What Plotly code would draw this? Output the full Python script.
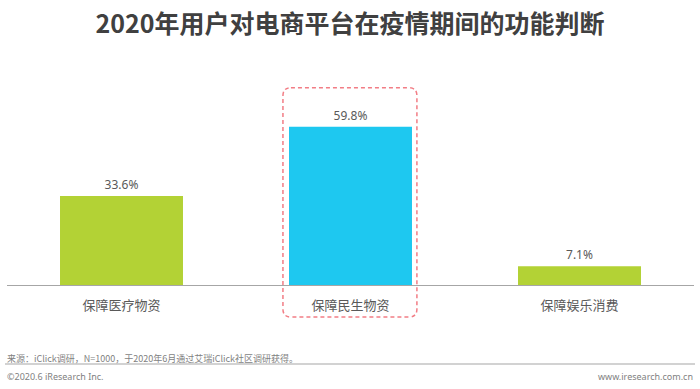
import plotly.graph_objects as go

categories = ["保障医疗物资", "保障民生物资", "保障娱乐消费"]
values = [33.6, 59.8, 7.1]
bar_colors = ["#B3D235", "#1EC8F0", "#B3D235"]
highlight_index = 1

title = "2020年用户对电商平台在疫情期间的功能判断"
source = "来源：iClick调研，N=1000，于2020年6月通过艾瑞iClick社区调研获得。"
copyright_text = "©2020.6 iResearch Inc."
site = "www.iresearch.com.cn"

CJK = "Noto Sans CJK SC"

fig = go.Figure()
fig.add_trace(go.Bar(
    x=categories, y=values,
    marker=dict(color=bar_colors, line=dict(width=0)),
    width=0.537,
    text=[f"{v}%" for v in values],
    textposition="outside",
    textfont=dict(family="Noto Sans, " + CJK, size=12, color="#595959"),
    cliponaxis=False,
    hoverinfo="skip",
))

W, H = 700, 389
ml, mr, mt, mb = 7, 6, 113, 104
ymax = 65
pw, ph = W - ml - mr, H - mt - mb
n = len(categories)
px_x = pw / n
px_y = ph / ymax

def xp(xd):  # data x (category index) -> paper
    return (xd + 0.5) / n

def yp(yd):  # data y -> paper
    return yd / ymax

# highlight box (rounded dashed rect) around highlighted bar, paper units
cx = highlight_index
x0, x1 = xp(cx - 0.295), xp(cx + 0.29)
y0, y1 = yp(-32 / px_y), yp(values[highlight_index] + 39 / px_y)
rx, ry = 8 / pw, 8 / ph
path = (f"M {x0+rx},{y1} L {x1-rx},{y1} Q {x1},{y1} {x1},{y1-ry} "
        f"L {x1},{y0+ry} Q {x1},{y0} {x1-rx},{y0} L {x0+rx},{y0} "
        f"Q {x0},{y0} {x0},{y0+ry} L {x0},{y1-ry} Q {x0},{y1} {x0+rx},{y1} Z")
fig.add_shape(type="path", path=path, xref="paper", yref="paper",
              line=dict(color="#F27D85", width=1.5, dash="4px,3px"), layer="above")

# footer line
fy = -(364 - 285) / ph
fig.add_shape(type="line", xref="paper", yref="paper",
              x0=-2 / pw, x1=688 / pw, y0=fy, y1=fy,
              line=dict(color="#A6A6A6", width=1.2))

fig.add_annotation(text=source, xref="paper", yref="paper",
                   x=-2 / pw, y=-(358 - 285) / ph, xanchor="left", yanchor="middle",
                   showarrow=False, font=dict(family=CJK, size=9, color="#7F7F7F"))
fig.add_annotation(text=copyright_text, xref="paper", yref="paper",
                   x=-2 / pw, y=-(376 - 285) / ph, xanchor="left", yanchor="middle",
                   showarrow=False, font=dict(family="Noto Sans", size=9, color="#7F7F7F"))
fig.add_annotation(text=site, xref="paper", yref="paper",
                   x=688 / pw, y=-(376 - 285) / ph, xanchor="right", yanchor="middle",
                   showarrow=False, font=dict(family="Noto Sans", size=9, color="#7F7F7F"))

fig.update_layout(
    width=W, height=H,
    margin=dict(l=ml, r=mr, t=mt, b=mb),
    paper_bgcolor="white", plot_bgcolor="white",
    showlegend=False,
    title=dict(text=f"<b>{title}</b>", x=0.5, xanchor="center", y=1 - 24 / H, yanchor="middle",
               font=dict(family=CJK, size=25, color="#404040")),
    xaxis=dict(showgrid=False, showline=True, linecolor="#A6A6A6", linewidth=1,
               ticks="", tickfont=dict(family=CJK, size=13, color="#595959"),
               ticklabelstandoff=8, fixedrange=True),
    yaxis=dict(range=[0, ymax], visible=False, showgrid=False, zeroline=False, fixedrange=True),
)

fig.write_html("out.html", config={"displayModeBar": False},
               post_script="document.body.style.margin='0';document.body.style.overflow='hidden';")
